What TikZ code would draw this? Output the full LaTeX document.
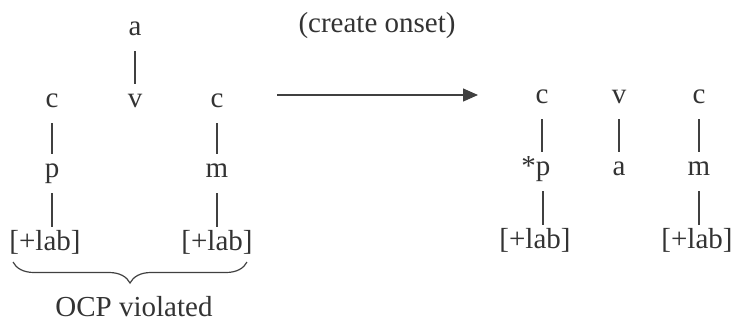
\documentclass[tikz,border=0pt]{standalone}
\usepackage{fontspec}
\setmainfont{Liberation Serif}
\usetikzlibrary{arrows.meta,decorations.pathreplacing}

\begin{document}
\begin{tikzpicture}[x=1pt, y=-1pt, >={Triangle[length=15pt, width=13pt]},
  every node/.style={text=black!80},
  seg/.style={font=\fontsize{29}{34}\selectfont, text height=15pt, text depth=8pt, inner sep=0pt, anchor=base},
  assoc/.style={draw=black!75, line width=1.2pt, shorten <=8pt, shorten >=8pt}]
  \useasboundingbox (0,0) rectangle (735,325);

  % Input: a floats above v
  \node[seg] (a1) at (135,35) {a};
  \node[seg] (v1) at (135,107) {v};
  \node[seg] (c1) at (52,107) {c};
  \node[seg] (c2) at (217,107) {c};
  \node[seg] (p1) at (52,177) {p};
  \node[seg] (m1) at (217,177) {m};
  \node[seg] (lab1) at (45,250) {[+lab]};
  \node[seg] (lab2) at (217,250) {[+lab]};
  \draw[assoc] (a1) -- (v1);
  \draw[assoc] (c1) -- (p1);
  \draw[assoc] (c2) -- (m1);
  \draw[assoc] (p1) -- (p1 |- lab1.north);
  \draw[assoc] (m1) -- (m1 |- lab2.north);

  % OCP brace
  \coordinate (braceL) at (13,262);
  \coordinate (braceR) at (247,262);
  \draw[draw=black!75, line width=1.2pt, decorate, decoration={brace, mirror, amplitude=21pt}] (braceL) -- (braceR);
  \node[seg] (ocp) at (134,316) {OCP violated};

  % Arrow
  \coordinate (arrS) at (277,95);
  \coordinate (arrE) at (478,95);
  \draw[->, draw=black!75, fill=black!80, line width=1.3pt] (arrS) -- (arrE);
  \node[seg] (rule) at (377,32) {(create onset)};

  % Output
  \node[seg] (c3) at (542,103) {c};
  \node[seg] (v2) at (619,103) {v};
  \node[seg] (c4) at (699,103) {c};
  \node[seg] (p2) at (543,175) {\llap{*}p};
  \node[seg] (a2) at (619,175) {a};
  \node[seg] (m2) at (699,175) {m};
  \node[seg] (lab3) at (535,248) {[+lab]};
  \node[seg] (lab4) at (697,248) {[+lab]};
  \draw[assoc] (c3) -- (c3 |- p2.north);
  \draw[assoc] (v2) -- (a2);
  \draw[assoc] (c4) -- (m2);
  \draw[assoc] (p2) -- (p2 |- lab3.north);
  \draw[assoc] (m2) -- (m2 |- lab4.north);
\end{tikzpicture}
\end{document}
